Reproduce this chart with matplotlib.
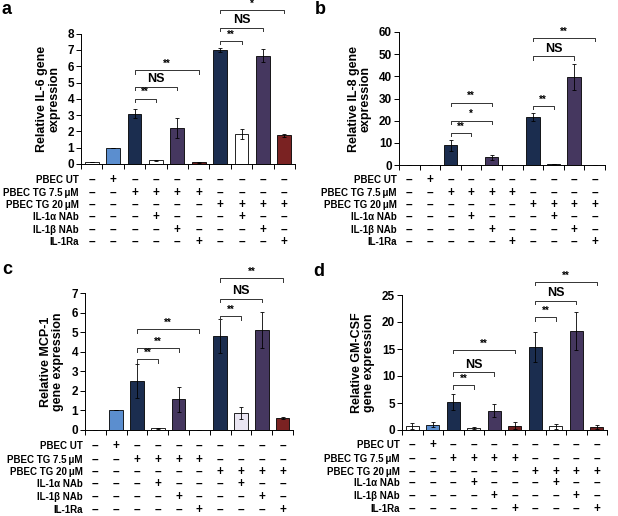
import matplotlib.pyplot as plt
import numpy as np
from matplotlib.transforms import blended_transform_factory

plt.rcParams['font.family'] = ['Liberation Sans', 'DejaVu Sans']
plt.rcParams['font.weight'] = 'bold'

# colours for the 10 conditions
navy = '#1b2d4f'
purple = '#45375f'
lblue = '#5b8ecf'
dred = '#6d1f1f'

row_names = ['PBEC UT', 'PBEC TG 7.5\u2009\u03bcM', 'PBEC TG 20\u2009\u03bcM',
             'IL-1\u03b1 NAb', 'IL-1\u03b2 NAb', 'IL-1Ra']
row_signs = [
    ['-', '+', '-', '-', '-', '-', '-', '-', '-', '-'],
    ['-', '-', '+', '+', '+', '+', '-', '-', '-', '-'],
    ['-', '-', '-', '-', '-', '-', '+', '+', '+', '+'],
    ['-', '-', '-', '+', '-', '-', '-', '+', '-', '-'],
    ['-', '-', '-', '-', '+', '-', '-', '-', '+', '-'],
    ['-', '-', '-', '-', '-', '+', '-', '-', '-', '+'],
]

# panel a: IL-6
il6 = [0.15, 1.0, 3.1, 0.22, 2.2, 0.12, 7.0, 1.85, 6.65, 1.75]
il6_err = [0, 0, 0.25, 0.04, 0.6, 0.03, 0.1, 0.3, 0.4, 0.12]
il6_col = ['white', lblue, navy, 'white', purple, dred, navy, 'white', purple, '#7a2222']
il6_sig = [(2, 3, 4.0, '**'), (2, 4, 4.75, 'NS'), (2, 5, 5.75, '**'),
           (6, 7, 7.55, '**'), (6, 8, 8.35, 'NS'), (6, 9, 9.45, '*')]

# panel b: IL-8
il8 = [0, 0, 9.0, 0, 3.5, 0, 21.5, 0.3, 39.7, 0]
il8_err = [0, 0, 2.5, 0, 1.1, 0, 1.8, 0, 6.0, 0]
il8_col = ['white', lblue, navy, 'white', purple, dred, navy, navy, purple, dred]
il8_sig = [(2, 3, 14.4, '**'), (2, 4, 19.9, '*'), (2, 4, 28.0, '**'),
           (6, 7, 26.6, '**'), (6, 8, 49.0, 'NS'), (6, 9, 57.3, '**')]

# panel c: MCP-1
mcp1 = [0, 1.0, 2.5, 0.08, 1.57, 0, 4.8, 0.87, 5.1, 0.62]
mcp1_err = [0, 0, 0.85, 0.02, 0.65, 0, 0.85, 0.3, 0.92, 0.04]
mcp1_col = ['white', lblue, navy, 'white', purple, dred, navy, '#e9e5f2', purple, '#7a2222']
mcp1_sig = [(2, 3, 3.62, '**'), (2, 4, 4.18, '**'), (2, 5, 5.15, '**'),
            (6, 7, 5.8, '**'), (6, 8, 6.7, 'NS'), (6, 9, 7.75, '**')]

# panel d: GM-CSF
gmcsf = [0.75, 1.0, 5.2, 0.4, 3.6, 0.8, 15.4, 0.65, 18.3, 0.6]
gmcsf_err = [0.5, 0.5, 1.5, 0.15, 1.2, 0.6, 2.8, 0.4, 3.5, 0.35]
gmcsf_col = ['white', lblue, navy, '#e6e6e6', purple, dred, navy, 'white', purple, dred]
gmcsf_sig = [(2, 3, 8.3, '**'), (2, 4, 10.7, 'NS'), (2, 5, 14.8, '**'),
             (6, 7, 20.9, '**'), (6, 8, 23.9, 'NS'), (6, 9, 27.4, '**')]

fig = plt.figure(figsize=(6.18, 5.16), dpi=100)
W, H = 618, 516


def panel(rect, vals, errs, cols, sigs, ymax, ystep, ylabel, letter, rows_px, letter_pos):
    x0, y0, x1, y1 = rect
    ax = fig.add_axes([x0 / W, 1 - y0 / H, (x1 - x0) / W, (y0 - y1) / H])
    x = np.arange(10) + 0.5
    ax.bar(x, vals, width=0.65, color=cols, edgecolor='black', linewidth=0.6)
    ax.errorbar(x, vals, yerr=errs, fmt='none', ecolor='black', elinewidth=0.6,
                capsize=1.5, capthick=0.6)
    ax.set_xlim(0, 10)
    ax.set_ylim(0, ymax)
    ax.set_xticks(np.arange(11))
    ax.set_xticklabels([])
    ax.set_yticks(np.arange(0, ymax + 0.01, ystep))
    ax.tick_params(axis='both', direction='out', length=3.5, width=0.7, labelsize=8.5, pad=1.5)
    for lab in ax.get_yticklabels():
        lab.set_fontweight('bold')
    for s in ['top', 'right']:
        ax.spines[s].set_visible(False)
    for s in ['left', 'bottom']:
        ax.spines[s].set_linewidth(0.7)
    ax.set_ylabel(ylabel, fontsize=9, fontweight='bold', labelpad=5, linespacing=1.0)

    # significance brackets
    tick = ymax * 0.025
    for i, j, y, lab in sigs:
        ax.plot([x[i], x[i], x[j], x[j]], [y - tick, y, y, y - tick],
                color='#333333', lw=0.7, clip_on=False)
        fs = 9 if lab == 'NS' else 7
        ax.text((x[i] + x[j]) / 2, y + ymax * 0.012, lab, ha='center', va='bottom',
                fontsize=fs, fontweight='bold')

    # condition table under the axis
    tr = blended_transform_factory(ax.transData, fig.transFigure)
    tl = blended_transform_factory(ax.transAxes, fig.transFigure)
    for r, (name, signs) in enumerate(zip(row_names, row_signs)):
        yy = 1 - rows_px[r] / H
        ax.text(-0.012, yy, name, transform=tl, ha='right', va='center',
                fontsize=7, fontweight='bold')
        for k, sg in enumerate(signs):
            ax.text(x[k], yy, '+' if sg == '+' else '\u2013', transform=tr,
                    ha='center', va='center', fontsize=8.5, fontweight='bold')
    fig.text(letter_pos[0] / W, 1 - letter_pos[1] / H, letter, fontsize=13,
             fontweight='bold', ha='left', va='center')
    return ax


panel((81, 164, 295, 33.7), il6, il6_err, il6_col, il6_sig, 8, 1,
      'Relative IL-6 gene\nexpression', 'a',
      [180, 193, 205, 217, 230, 242], (2, 9))
panel((399, 165, 605, 32), il8, il8_err, il8_col, il8_sig, 60, 10,
      'Relative IL-8 gene\nexpression', 'b',
      [180, 193, 205, 217, 230, 242], (315, 9))
panel((85, 430, 293, 293), mcp1, mcp1_err, mcp1_col, mcp1_sig, 7, 1,
      'Relative MCP-1\ngene expression', 'c',
      [446, 460, 472, 484, 497, 510], (2, 270))
panel((402, 430, 607, 295), gmcsf, gmcsf_err, gmcsf_col, gmcsf_sig, 25, 5,
      'Relative GM-CSF\ngene expression', 'd',
      [445, 459, 472, 483, 496, 509], (313, 272))

fig.savefig('out.png', dpi=100)
